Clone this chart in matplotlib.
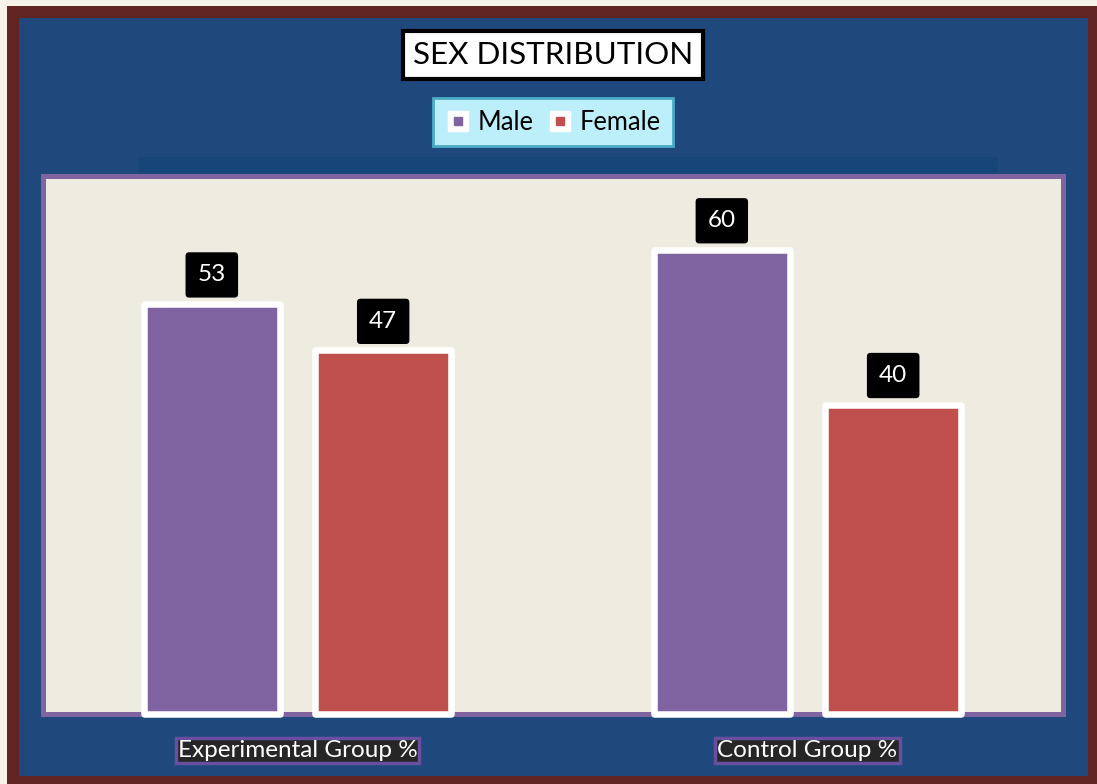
import matplotlib
matplotlib.use("Agg")
import numpy as np
import matplotlib.pyplot as plt
from matplotlib.patches import Rectangle
from matplotlib.lines import Line2D

# data
groups = ["Experimental Group %", "Control Group %"]
series = ["Male", "Female"]
male = [53, 60]
female = [47, 40]
colors = ["#8064A2", "#C0504D"]

W, H = 1097, 784
plt.rcParams['font.family'] = ['Lato', 'DejaVu Sans']

def fx(px):
    return px / W

def fy(py):
    return 1 - py / H

fig = plt.figure(figsize=(W / 100, H / 100), dpi=100, facecolor="#F5F3E8")

# frame layers
fig.add_artist(Rectangle((fx(7), fy(784)), fx(1097) - fx(7), fy(6) - fy(784),
                         transform=fig.transFigure, fc="#632523", ec="none", zorder=-10))
fig.add_artist(Rectangle((fx(19), fy(776)), fx(1088) - fx(19), fy(18) - fy(776),
                         transform=fig.transFigure, fc="#1F497D", ec="none", zorder=-9))
fig.add_artist(Rectangle((fx(139), fy(173)), fx(998) - fx(139), fy(157) - fy(173),
                         transform=fig.transFigure, fc="#17457A", ec="none", zorder=-8))

ax = fig.add_axes([fx(42.5), fy(714), fx(1062.5) - fx(42.5), fy(175.5) - fy(714)])
ax.set_facecolor("#EEEBE0")
for s in ax.spines.values():
    s.set_color("#8064A2")
    s.set_linewidth(3.6)

x = np.arange(len(groups))
off = 0.168
bw = 0.266
for i, (vals, c) in enumerate(zip([male, female], colors)):
    pos = x + (-off if i == 0 else off)
    ax.bar(pos, vals, width=bw, color=c, edgecolor="white", linewidth=4.7,
           joinstyle="round", clip_on=False, zorder=3, label=series[i])
    for xp, v in zip(pos, vals):
        ax.annotate(str(v), (xp, v), xytext=(0, 29), textcoords="offset pixels",
                    ha="center", va="center", color="white", fontsize=17.5,
                    bbox=dict(boxstyle="round,pad=0.5,rounding_size=0.15",
                              fc="black", ec="none"), zorder=5)

ax.set_xlim(-0.5, 1.5)
ax.set_ylim(0, 69.6)
ax.set_yticks([])
ax.set_xticks(x)
ax.set_xticklabels(groups, fontsize=17.5, color="white")
ax.tick_params(axis="x", length=0, pad=19)
for t in ax.get_xticklabels():
    t.set_bbox(dict(boxstyle="square,pad=0.08", fc="#262626", ec="#6A4FA0", lw=2.5))

# title
fig.text(fx(553), fy(55), "SEX DISTRIBUTION", ha="center", va="center", fontsize=22.6,
         color="black",
         bbox=dict(boxstyle="square,pad=0.33", fc="white", ec="black", lw=3))

# legend
handles = [(Line2D([], [], marker="s", ls="none", ms=15, mfc="white", mec="white"),
            Line2D([], [], marker="s", ls="none", ms=5.5, mfc=c, mec=c)) for c in colors]
leg = fig.legend(handles, series, loc="center", bbox_to_anchor=(fx(553), fy(122)),
                 ncol=2, fontsize=18.4, frameon=True, fancybox=False,
                 handlelength=1.0, handletextpad=0.3, columnspacing=0.5,
                 borderpad=0.45, borderaxespad=0)
fr = leg.get_frame()
fr.set_facecolor("#BDEFFA")
fr.set_edgecolor("#4BACC6")
fr.set_linewidth(2)
fr.set_alpha(1)

fig.savefig("out.png", dpi=100, facecolor=fig.get_facecolor())
